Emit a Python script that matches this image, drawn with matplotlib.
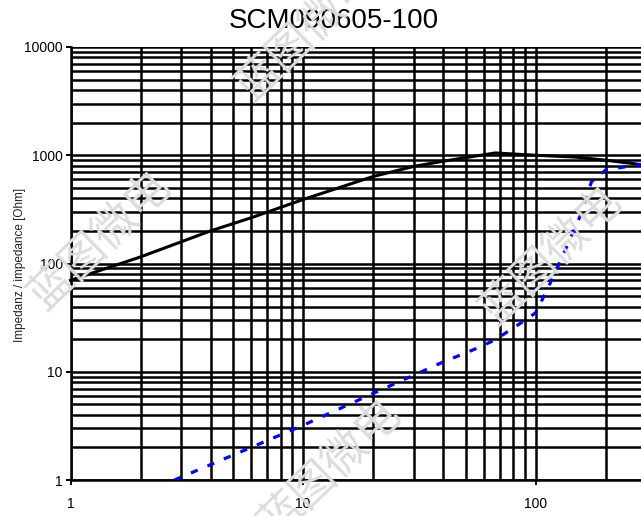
import matplotlib
matplotlib.use("Agg")
import matplotlib.pyplot as plt
from matplotlib.ticker import LogLocator, FixedLocator, NullFormatter

plt.rcParams['font.family'] = ['Liberation Sans', 'DejaVu Sans']

title = "SCM090605-100"
ylabel = "Impedanz / impedance [Ohm]"
xticks = [1, 10, 100]
xticklabels = ["1", "10", "100"]
yticks = [1, 10, 100, 1000, 10000]
yticklabels = ["1", "10", "100", "1000", "10000"]

# black solid curve (impedance)
freq_z = [1, 2, 4, 6, 10, 20, 30, 40, 67, 100, 150, 200, 284]
imp_z = [70, 115, 200, 265, 390, 636, 790, 880, 1050, 1000, 960, 900, 820]

# blue dashed curve
freq_b = [2.8, 10, 20, 39, 56, 67, 86, 100, 112, 130, 155, 174, 200, 250, 284]
imp_b = [1, 3.2, 6.3, 12, 16.5, 19.7, 28, 35, 57, 114, 270, 570, 730, 790, 820]

watermark = "蓝图微电"
wm_centers = [(307, 31), (100, 240), (551, 255), (330, 468)]

W, H = 641, 516
fig = plt.figure(figsize=(W / 100, H / 100), dpi=100)
ax = fig.add_axes([70.5 / W, 1 - 480 / H, 1 - 70.5 / W, (480 - 47) / H])
ax.set_xscale('log')
ax.set_yscale('log')
ax.set_xlim(1, 284)
ax.set_ylim(1, 10000)

ax.xaxis.set_major_locator(FixedLocator(xticks))
ax.yaxis.set_major_locator(FixedLocator(yticks))
ax.set_xticklabels(xticklabels)
ax.set_yticklabels(yticklabels)
ax.xaxis.set_minor_locator(LogLocator(base=10, subs=range(2, 10), numticks=20))
ax.yaxis.set_minor_locator(LogLocator(base=10, subs=range(2, 10), numticks=20))
ax.xaxis.set_minor_formatter(NullFormatter())
ax.yaxis.set_minor_formatter(NullFormatter())

ax.grid(True, which='both', color='black', linewidth=1.8)
ax.set_axisbelow(True)
ax.tick_params(which='major', direction='out', length=3.5, width=1.4, labelsize=10, color='black')
ax.tick_params(axis='x', which='major', pad=9)
ax.tick_params(axis='y', which='major', pad=2)
ax.tick_params(which='minor', length=0)
for s in ['top', 'right']:
    ax.spines[s].set_visible(False)
for s in ['left', 'bottom']:
    ax.spines[s].set_linewidth(1.8)

ax.plot(freq_z, imp_z, color='black', linewidth=2.2, zorder=3, clip_on=False)
lb, = ax.plot(freq_b, imp_b, color='#0000ff', linewidth=2.3, zorder=3)
lb.set_dashes((2.3, 3.3))

fig.text(20 / W, 1 - 265 / H, ylabel, fontsize=8.5, color='#222222',
         rotation=90, ha='center', va='center')
fig.text(334 / W, 1 - 21 / H, title, fontsize=20, ha='center', va='center')

for (cx, cy) in wm_centers:
    fig.text(cx / W, 1 - cy / H, watermark, fontsize=32, color='#dcdcdc',
             rotation=44, rotation_mode='anchor', ha='center', va='center',
             family=['Noto Sans CJK SC', 'DejaVu Sans'], zorder=10)

fig.savefig("out.png", dpi=100)
